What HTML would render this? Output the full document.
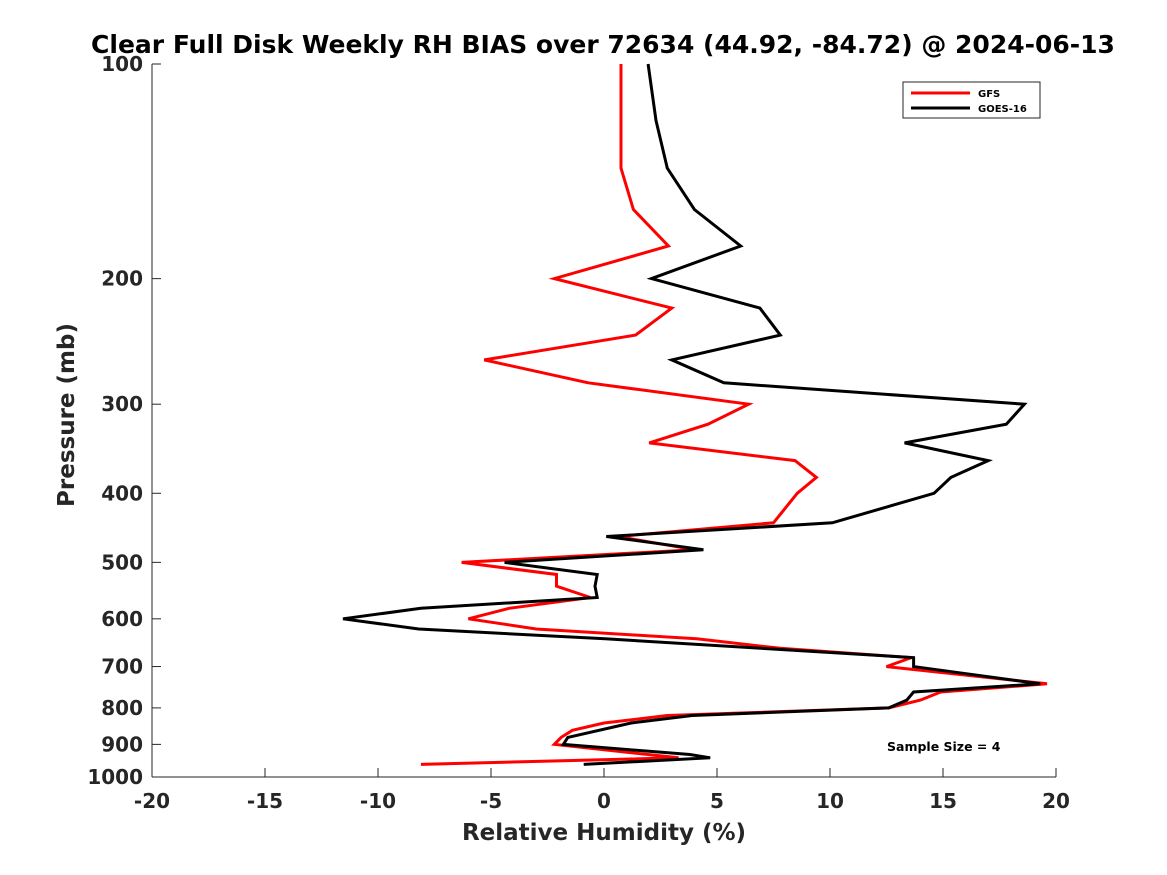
<!DOCTYPE html>
<html><head><meta charset="utf-8"><style>
html,body{margin:0;padding:0;background:#fff;}
svg{display:block;font-family:"DejaVu Sans","Liberation Sans",sans-serif;}
</style></head><body>
<svg id="chart" width="1167" height="875" viewBox="0 0 1167 875" xmlns="http://www.w3.org/2000/svg">
<rect width="1167" height="875" fill="#fff"/>
<text x="603" y="53" text-anchor="middle" font-size="25" font-weight="bold" fill="#000">Clear Full Disk Weekly RH BIAS over 72634 (44.92, -84.72) @ 2024-06-13</text>
<g id="axes"></g>
<g id="series"></g>
<text x="604" y="840" text-anchor="middle" font-size="23" font-weight="bold" fill="#262626">Relative Humidity (%)</text>
<text transform="translate(74,415) rotate(-90)" text-anchor="middle" font-size="23" font-weight="bold" fill="#262626">Pressure (mb)</text>
<g>
<rect x="903" y="82" width="137" height="36" fill="#fff" stroke="#262626" stroke-width="1"/>
<line x1="911" y1="93" x2="970" y2="93" stroke="#ff0000" stroke-width="3"/>
<text x="978" y="97" font-size="10" font-weight="bold" fill="#000">GFS</text>
<line x1="911" y1="108" x2="970" y2="108" stroke="#000" stroke-width="3"/>
<text x="978" y="112" font-size="10" font-weight="bold" fill="#000">GOES-16</text>
</g>
<text x="887" y="751" font-size="12.5" font-weight="bold" fill="#000">Sample Size = 4</text>
</svg>
<script>
const xTicks = [-20,-15,-10,-5,0,5,10,15,20];
const yTicks = [100,200,300,400,500,600,700,800,900,1000];
const gfsPressure = [100,140,160,180,200,220,240,260,280,300,320,340,360,380,400,440,460,480,500,520,540,560,580,600,620,640,660,680,700,740,760,780,800,820,840,860,880,900,940,960];
const gfsValues = [0.75,0.75,1.3,2.85,-2.2,3.0,1.4,-5.3,-0.7,6.4,4.6,2.0,8.45,9.4,8.55,7.5,0.6,4.0,-6.3,-2.1,-2.1,-0.6,-4.2,-6.0,-3.0,4.1,7.8,13.6,12.5,19.6,14.9,14.0,12.6,2.8,0.0,-1.4,-1.9,-2.2,3.3,-8.1];
const goesPressure = [100,120,140,160,180,200,220,240,260,280,300,320,340,360,380,400,440,460,480,500,520,540,560,580,600,620,640,680,700,740,760,780,800,820,840,880,900,930,940,960];
const goesValues = [1.95,2.3,2.8,4.0,6.05,2.1,6.9,7.8,3.0,5.3,18.6,17.8,13.3,17.0,15.35,14.6,10.1,0.1,4.4,-4.4,-0.3,-0.4,-0.3,-8.1,-11.55,-8.2,0.05,13.7,13.7,19.3,13.7,13.4,12.6,3.9,1.2,-1.6,-1.8,3.8,4.7,-0.9];

const NS = "http://www.w3.org/2000/svg";
const L = 152, R = 1056, T = 64, B = 777;
function xScale(v){ return L + (v + 20) / 40 * (R - L); }
function yScale(p){ return T + Math.log10(p / 100) * (B - T); }
function mk(tag, attrs, parent){ const e = document.createElementNS(NS, tag); for (const k in attrs) e.setAttribute(k, attrs[k]); parent.appendChild(e); return e; }

const axes = document.getElementById('axes');
const yAxisLine = mk('line', {x1:L, y1:T, x2:L, y2:B, stroke:'#262626', 'stroke-width':1}, axes);


const xAxisLine = mk('line', {x1:L, y1:B, x2:R, y2:B, stroke:'#262626', 'stroke-width':1}, axes);



xTicks.forEach(t => {
  const x = xScale(t);
  const tk = mk('line', {x1:x, y1:B, x2:x, y2:B-9, stroke:'#262626', 'stroke-width':1}, axes);
  
  
  const lb = mk('text', {x:x, y:B+31, 'text-anchor':'middle', 'font-size':20, 'font-weight':'bold', fill:'#262626'}, axes);
  lb.textContent = t;
  
  
});
yTicks.forEach(t => {
  const y = yScale(t);
  const tk = mk('line', {x1:L, y1:y, x2:L+9, y2:y, stroke:'#262626', 'stroke-width':1}, axes);
  
  
  const lb = mk('text', {x:L-9, y:y+7, 'text-anchor':'end', 'font-size':20, 'font-weight':'bold', fill:'#262626'}, axes);
  lb.textContent = t;
  
  
});

const series = document.getElementById('series');
function pts(ps, vs){ return ps.map((p,i) => xScale(vs[i]).toFixed(1) + ',' + yScale(p).toFixed(1)).join(' '); }
const gfs = mk('polyline', {points:pts(gfsPressure, gfsValues), fill:'none', stroke:'#ff0000', 'stroke-width':3, 'stroke-linejoin':'miter'}, series);


const goes = mk('polyline', {points:pts(goesPressure, goesValues), fill:'none', stroke:'#000', 'stroke-width':3, 'stroke-linejoin':'miter'}, series);


</script>
</body></html>
